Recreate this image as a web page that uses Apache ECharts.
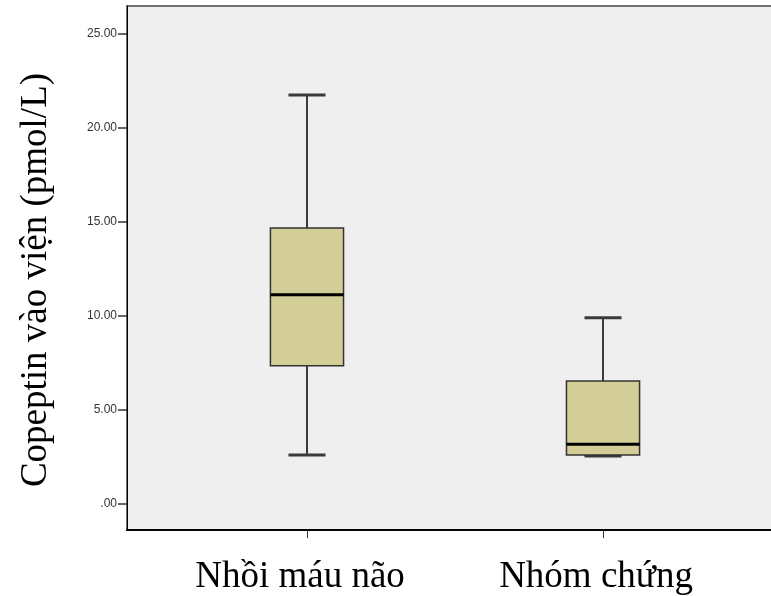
<!DOCTYPE html>
<html>
<head>
<meta charset="utf-8">
<style>
  html, body { margin: 0; padding: 0; background: #ffffff; }
  #chart { width: 771px; height: 596px; }
</style>
<script src="https://cdn.jsdelivr.net/npm/echarts@6/dist/echarts.min.js"></script>
</head>
<body>
<div id="chart"></div>
<script>
// Group names and five-number summaries of admission copeptin (pmol/L)
const categories = ['Nhồi máu não', 'Nhóm chứng'];
const whiskerLow = [2.60, 2.55];
const quartile1 = [7.34, 2.60];
const medians = [11.12, 3.17];
const quartile3 = [14.66, 6.53];
const whiskerHigh = [21.72, 9.89];
const yTicks = [0, 5, 10, 15, 20, 25];
const yTitle = 'Copeptin vào viện (pmol/L)';

const boxData = categories.map((c, i) => [
  i, whiskerLow[i], quartile1[i], medians[i], quartile3[i], whiskerHigh[i]
]);

const BOX_W = 0.247;   // box width in category units
const CAP_W = 0.125;   // whisker cap width in category units

function renderBox(params, api) {
  const x = api.value(0);
  const pLow = api.coord([x, api.value(1)]);
  const pQ1 = api.coord([x, api.value(2)]);
  const pMed = api.coord([x, api.value(3)]);
  const pQ3 = api.coord([x, api.value(4)]);
  const pHigh = api.coord([x, api.value(5)]);
  const bw = api.size([BOX_W, 0])[0];
  const cw = api.size([CAP_W, 0])[0];
  const cx = pMed[0];
  const lineStyle = { stroke: '#3a3a3a', lineWidth: 2 };
  return {
    type: 'group',
    children: [
      { type: 'line', shape: { x1: cx, y1: pQ3[1], x2: cx, y2: pHigh[1] }, style: lineStyle },
      { type: 'line', shape: { x1: cx, y1: pQ1[1], x2: cx, y2: pLow[1] }, style: lineStyle },
      { type: 'line', shape: { x1: cx - cw / 2, y1: pHigh[1], x2: cx + cw / 2, y2: pHigh[1] }, style: { stroke: '#3a3a3a', lineWidth: 3 } },
      { type: 'line', shape: { x1: cx - cw / 2, y1: pLow[1], x2: cx + cw / 2, y2: pLow[1] }, style: { stroke: '#3a3a3a', lineWidth: 3 } },
      { type: 'rect', shape: { x: cx - bw / 2, y: pQ3[1], width: bw, height: pQ1[1] - pQ3[1] },
        style: { fill: '#d3ce97', stroke: '#333333', lineWidth: 1.5 } },
      { type: 'line', shape: { x1: cx - bw / 2, y1: pMed[1], x2: cx + bw / 2, y2: pMed[1] },
        style: { stroke: '#000000', lineWidth: 3 } }
    ]
  };
}

const chart = echarts.init(document.getElementById('chart'), null, { renderer: 'canvas' });
chart.setOption({
  animation: false,
  backgroundColor: '#ffffff',
  grid: {
    left: 127, width: 656, top: 6, bottom: 66,
    outerBoundsMode: 'none',
    containLabel: false,
    show: true, backgroundColor: '#efefef', borderColor: '#707070', borderWidth: 2
  },
  graphic: [{
    type: 'text',
    x: 36, y: 280,
    rotation: Math.PI / 2,
    style: {
      text: yTitle,
      font: '37px "Liberation Serif"',
      fill: '#000000',
      align: 'center',
      verticalAlign: 'middle'
    }
  }],
  xAxis: {
    type: 'value',
    min: -0.608, max: 1.608,
    splitLine: { show: false },
    axisLine: { show: true, onZero: false, lineStyle: { color: '#000000', width: 2 } },
    axisTick: { show: true, customValues: [0, 1], length: 8, lineStyle: { color: '#333333', width: 1 } },
    axisLabel: {
      customValues: [0, 1],
      formatter: v => categories[Math.round(v)] || '',
      fontFamily: 'Liberation Serif', fontSize: 37, color: '#000000', margin: 29,
      padding: [0, 14, 0, 0]
    }
  },
  yAxis: {
    type: 'value',
    min: -1.38, max: 26.45,
    splitLine: { show: false },
    axisLine: { show: true, onZero: false, lineStyle: { color: '#000000', width: 1 } },
    axisTick: { show: true, customValues: yTicks, length: 9, lineStyle: { color: '#333333', width: 1.5 } },
    axisLabel: {
      customValues: yTicks,
      formatter: v => (v === 0 ? '.00' : v.toFixed(2)),
      fontFamily: 'Liberation Sans', fontSize: 12, color: '#333333', margin: 10
    }
  },
  series: [{
    type: 'custom',
    renderItem: renderBox,
    data: boxData,
    clip: false,
    encode: { x: 0, y: [1, 2, 3, 4, 5] }
  }]
});
</script>
</body>
</html>
